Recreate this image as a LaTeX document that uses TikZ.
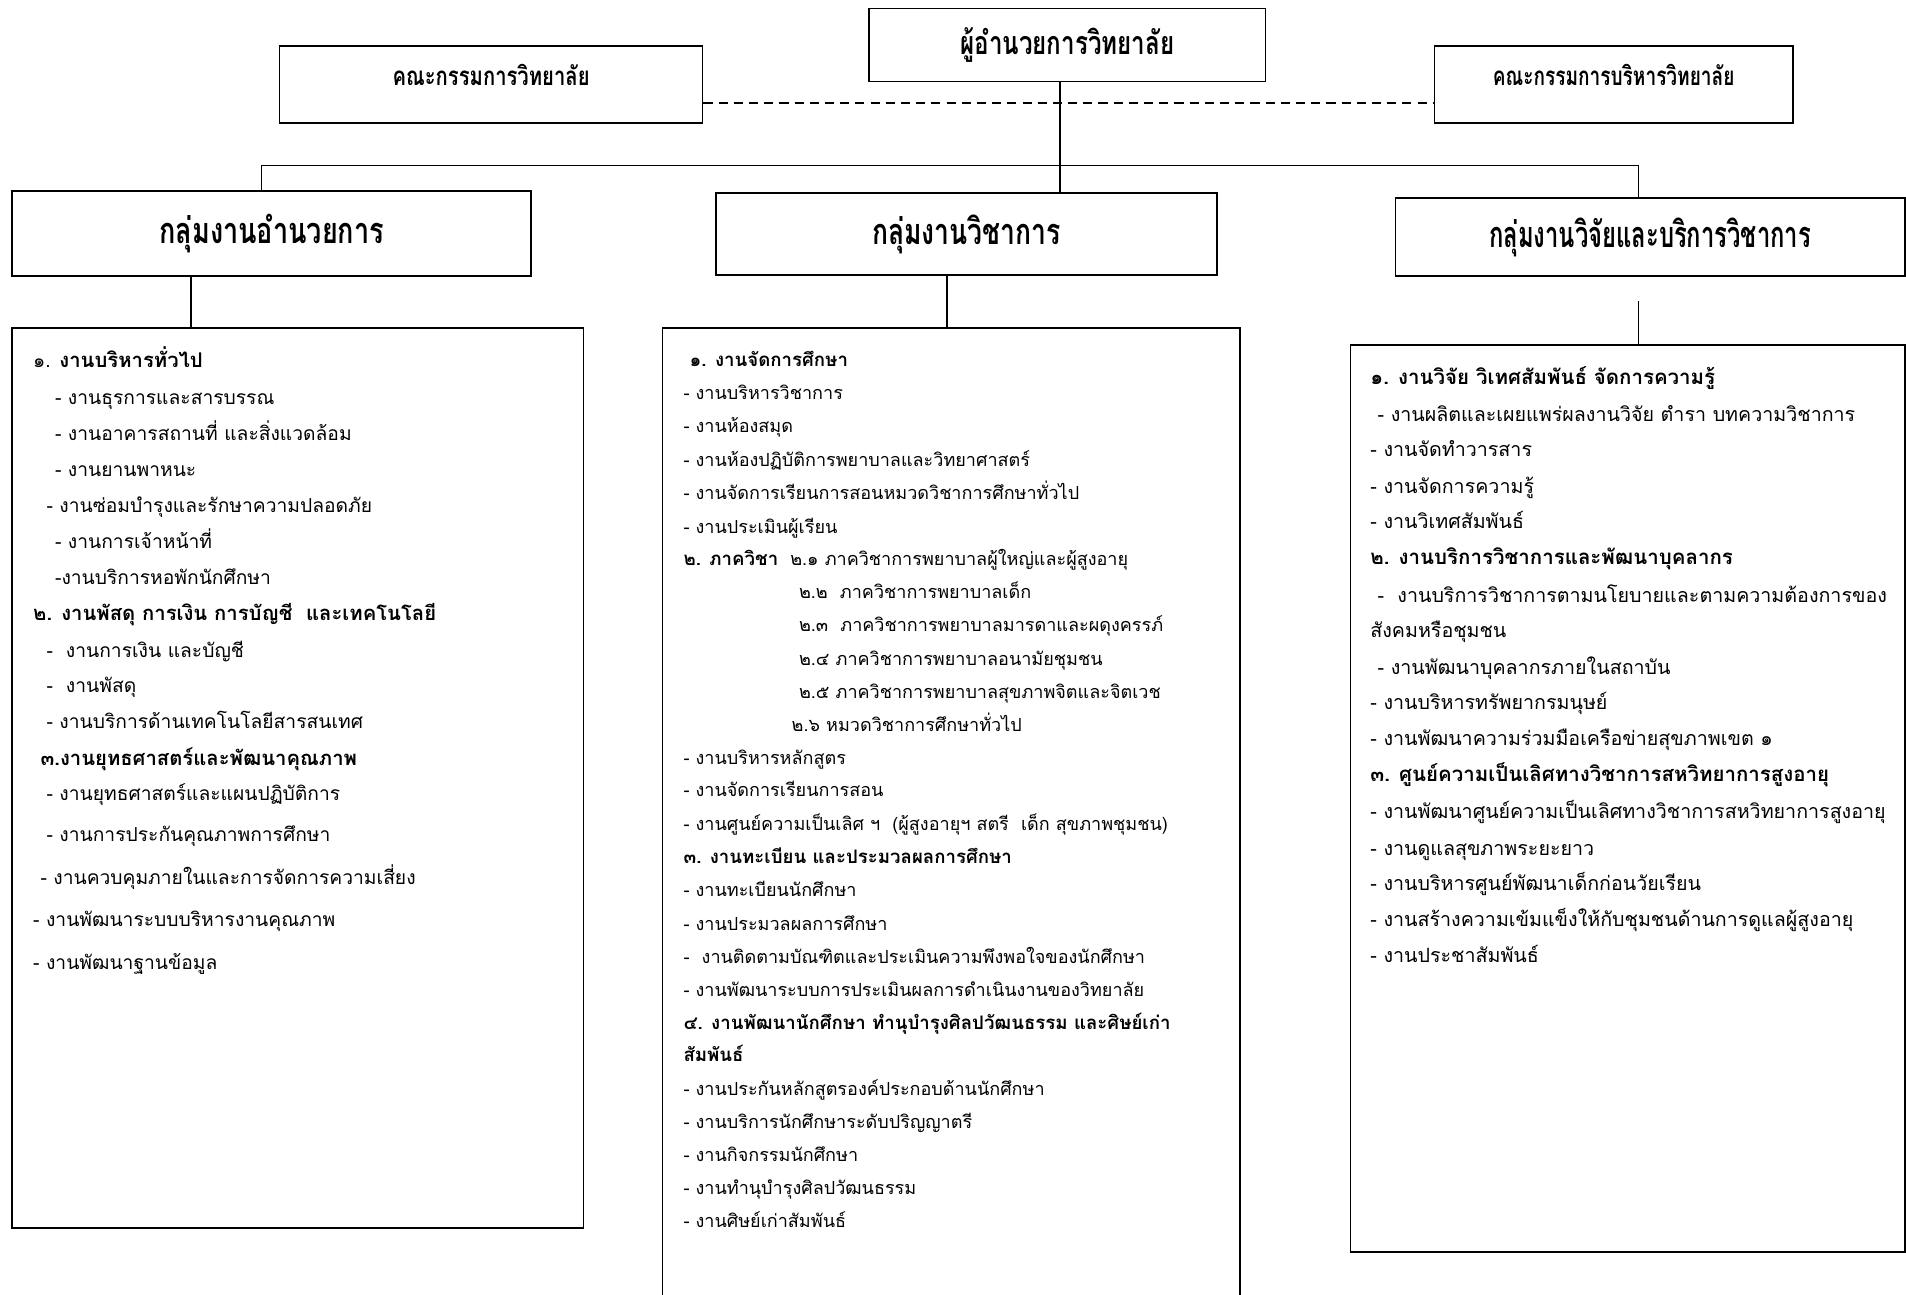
\documentclass[tikz,border=0pt]{standalone}
\usepackage{fontspec}
\newfontfamily\thai[Script=Thai]{Loma}
\newfontfamily\thaicond[Script=Thai,FakeStretch=0.75]{Loma}
\newcommand\hdl[1]{{\fontsize{10}{12}\selectfont\bfseries #1}}
\newcommand\hdm[1]{{\fontsize{9.2}{12}\selectfont\bfseries #1}}
\newcommand\hdr[1]{{\fontsize{10.1}{12}\selectfont\bfseries #1}}
\tikzset{
  box/.style={draw, line width=0.8pt, inner sep=0pt},
  link/.style={line width=0.8pt},
  dashline/.style={line width=0.9pt, dash pattern=on 4.5pt off 3pt},
  item/.style={anchor=mid west, inner sep=0pt, yshift=-1.8pt, font=\thai\fontsize{#1}{12}\selectfont},
  grouphead/.style={font=\thaicond\bfseries\fontsize{17.8}{20}\selectfont},
  tophead/.style={font=\thaicond\bfseries\fontsize{15.9}{18}\selectfont},
  boardhead/.style={font=\thaicond\bfseries\fontsize{12.8}{15}\selectfont},
}
\begin{document}
\begin{tikzpicture}[x=0.6pt,y=-0.6pt]
\useasboundingbox (0,0) rectangle (1568,1065);
% top level
\node[box, tophead, minimum width=195.6pt, minimum height=36pt] (dir) at (878,37) {\raisebox{1pt}{ผู้อำนวยการวิทยาลัย}};
\node[box, boardhead, minimum width=208.8pt, minimum height=37.8pt] (cl) at (404,69.5) {\raisebox{9pt}{\scalebox{1.04}[1]{คณะกรรมการวิทยาลัย}}};
\node[box, boardhead, minimum width=177pt, minimum height=37.8pt] (cr) at (1327.5,69.5) {\raisebox{9pt}{\scalebox{0.98}[1]{คณะกรรมการบริหารวิทยาลัย}}};
% group boxes
\node[box, grouphead, minimum width=256.2pt, minimum height=42pt] (gl) at (223.5,192) {\raisebox{2pt}{กลุ่มงานอำนวยการ}};
\node[box, grouphead, minimum width=247.2pt, minimum height=40.2pt] (gm) at (795,192.5) {\raisebox{2pt}{\scalebox{0.98}[1]{กลุ่มงานวิชาการ}}};
\node[box, grouphead, minimum width=251.4pt, minimum height=38.4pt] (gr) at (1357.5,195) {\raisebox{2pt}{\scalebox{0.88}[1]{กลุ่มงานวิจัยและบริการวิชาการ}}};
% content boxes
\node[box, minimum width=282pt, minimum height=444pt] (bl) at (245,640) {};
\node[box, minimum width=285pt, minimum height=486pt] (bm) at (782.5,675) {};
\node[box, minimum width=273.6pt, minimum height=447.6pt] (br) at (1339,657) {};
% connectors
\coordinate (dash) at (0,85);
\coordinate (spine) at (872,0);
\coordinate (busL) at (215,136);
\coordinate (busR) at (1348,136);
\coordinate (xl) at (157,0);
\coordinate (xm) at (779,0);
\coordinate (rtop) at (1348,248);
\draw[dashline] (cl.east |- dash) -- (cr.west |- dash);
\draw[link] (dir.south -| spine) -- (gm.north -| spine);
\draw[link] (gl.north -| busL) -- (busL) -- (busR) -- (gr.north -| busR);
\draw[link] (gl.south -| xl) -- (bl.north -| xl);
\draw[link] (gm.south -| xm) -- (bm.north -| xm);
\draw[link] (rtop) -- (br.north -| rtop);
% left list
\foreach \x/\y/\t in {
  27/296/{๑. \hdl{งานบริหารทั่วไป}},
  45/326/{- งานธุรการและสารบรรณ},
  45/356/{- งานอาคารสถานที่ และสิ่งแวดล้อม},
  45/385/{- งานยานพาหนะ},
  38/415/{- งานซ่อมบำรุงและรักษาความปลอดภัย},
  45/445/{- งานการเจ้าหน้าที่},
  45/474/{-งานบริการหอพักนักศึกษา},
  27/504/{\hdl{๒. งานพัสดุ การเงิน การบัญชี\ \ และเทคโนโลยี}},
  38/534/{-\ \ งานการเงิน และบัญชี},
  38/563/{-\ \ งานพัสดุ},
  38/593/{- งานบริการด้านเทคโนโลยีสารสนเทศ},
  33/623/{\hdl{๓.งานยุทธศาสตร์และพัฒนาคุณภาพ}},
  38/652/{- งานยุทธศาสตร์และแผนปฏิบัติการ},
  38/686/{- งานการประกันคุณภาพการศึกษา},
  33/721/{- งานควบคุมภายในและการจัดการความเสี่ยง},
  27/756/{- งานพัฒนาระบบบริหารงานคุณภาพ},
  27/791/{- งานพัฒนาฐานข้อมูล}}
  \node[item=9.5] (l\y) at (\x,\y) {\t};
% middle list
\foreach \x/\y/\t in {
  567/295/{\hdm{๑. งานจัดการศึกษา}},
  562/322/{- งานบริหารวิชาการ},
  562/349/{- งานห้องสมุด},
  562/377/{- งานห้องปฏิบัติการพยาบาลและวิทยาศาสตร์},
  562/404/{- งานจัดการเรียนการสอนหมวดวิชาการศึกษาทั่วไป},
  562/432/{- งานประเมินผู้เรียน},
  562/459/{\hdm{๒. ภาควิชา}\ \ ๒.๑ ภาควิชาการพยาบาลผู้ใหญ่และผู้สูงอายุ},
  657/486/{๒.๒\ \ ภาควิชาการพยาบาลเด็ก},
  657/513/{๒.๓\ \ ภาควิชาการพยาบาลมารดาและผดุงครรภ์},
  657/541/{๒.๔ ภาควิชาการพยาบาลอนามัยชุมชน},
  657/568/{๒.๕ ภาควิชาการพยาบาลสุขภาพจิตและจิตเวช},
  651/595/{๒.๖ หมวดวิชาการศึกษาทั่วไป},
  562/622/{- งานบริหารหลักสูตร},
  562/649/{- งานจัดการเรียนการสอน},
  562/677/{- งานศูนย์ความเป็นเลิศ ฯ\ \ (ผู้สูงอายุฯ สตรี\ \ เด็ก สุขภาพชุมชน)},
  562/704/{\hdm{๓. งานทะเบียน และประมวลผลการศึกษา}},
  562/731/{- งานทะเบียนนักศึกษา},
  562/759/{- งานประมวลผลการศึกษา},
  562/786/{-\ \ งานติดตามบัณฑิตและประเมินความพึงพอใจของนักศึกษา},
  562/813/{- งานพัฒนาระบบการประเมินผลการดำเนินงานของวิทยาลัย},
  562/840/{\hdm{๔. งานพัฒนานักศึกษา ทำนุบำรุงศิลปวัฒนธรรม และศิษย์เก่า}},
  562/867/{\hdm{สัมพันธ์}},
  562/895/{- งานประกันหลักสูตรองค์ประกอบด้านนักศึกษา},
  562/922/{- งานบริการนักศึกษาระดับปริญญาตรี},
  562/949/{- งานกิจกรรมนักศึกษา},
  562/976/{- งานทำนุบำรุงศิลปวัฒนธรรม},
  562/1003/{- งานศิษย์เก่าสัมพันธ์}}
  \node[item=8.9] (m\y) at (\x,\y) {\t};
% right list
\foreach \x/\y/\t in {
  1127/310/{\hdr{๑. งานวิจัย วิเทศสัมพันธ์ จัดการความรู้}},
  1133/340/{- งานผลิตและเผยแพร่ผลงานวิจัย ตำรา บทความวิชาการ},
  1127/369/{- งานจัดทำวารสาร},
  1127/399/{- งานจัดการความรู้},
  1127/428/{- งานวิเทศสัมพันธ์},
  1127/458/{\hdr{๒. งานบริการวิชาการและพัฒนาบุคลากร}},
  1133/489/{-\ \ งานบริการวิชาการตามนโยบายและตามความต้องการของ},
  1127/518/{สังคมหรือชุมชน},
  1133/548/{- งานพัฒนาบุคลากรภายในสถาบัน},
  1127/577/{- งานบริหารทรัพยากรมนุษย์},
  1127/607/{- งานพัฒนาความร่วมมือเครือข่ายสุขภาพเขต ๑},
  1127/636/{\hdr{๓. ศูนย์ความเป็นเลิศทางวิชาการสหวิทยาการสูงอายุ}},
  1127/667/{- งานพัฒนาศูนย์ความเป็นเลิศทางวิชาการสหวิทยาการสูงอายุ},
  1127/697/{- งานดูแลสุขภาพระยะยาว},
  1127/726/{- งานบริหารศูนย์พัฒนาเด็กก่อนวัยเรียน},
  1127/756/{- งานสร้างความเข้มแข็งให้กับชุมชนด้านการดูแลผู้สูงอายุ},
  1127/785/{- งานประชาสัมพันธ์}}
  \node[item=9.7] (r\y) at (\x,\y) {\t};
\end{tikzpicture}
\end{document}
